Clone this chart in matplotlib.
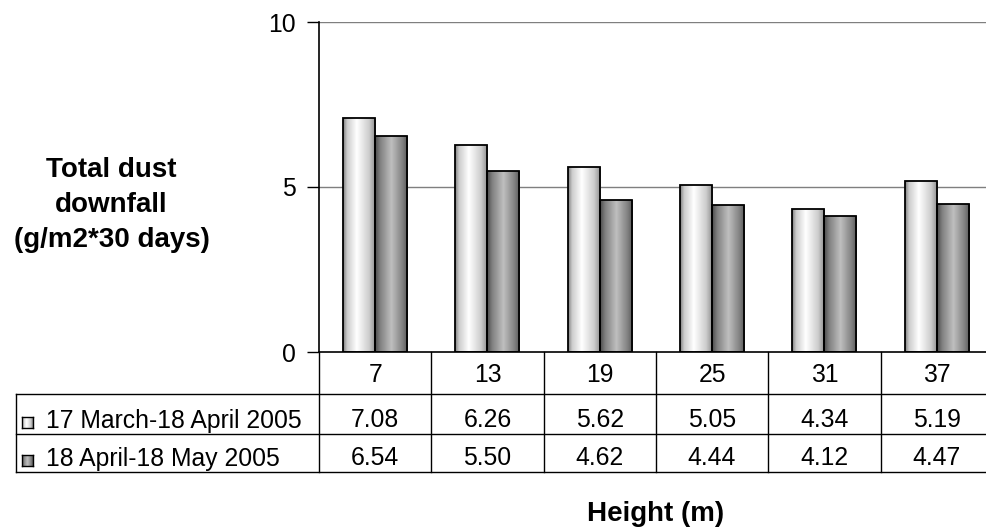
import numpy as np
import matplotlib
matplotlib.use("Agg")
import matplotlib.pyplot as plt
from matplotlib.transforms import blended_transform_factory

plt.rcParams["font.family"] = ["Liberation Sans", "DejaVu Sans"]

heights = ["7", "13", "19", "25", "31", "37"]
series_names = ["17 March-18 April 2005", "18 April-18 May 2005"]
march_april = [7.08, 6.26, 5.62, 5.05, 4.34, 5.19]
april_may = [6.54, 5.50, 4.62, 4.44, 4.12, 4.47]
ylabel_lines = ["Total dust", "downfall", "(g/m2*30 days)"]

# cylinder-like shading profiles (grey level across the bar)
GRAD = [([0, 0.12, 0.42, 0.8, 1], [0.5, 0.8, 1.0, 0.8, 0.55]),
        ([0, 0.15, 0.5, 0.85, 1], [0.3, 0.5, 0.75, 0.5, 0.35])]
FS = 17.8
FSB = 20

W, H = 986, 528
fig = plt.figure(figsize=(W / 100, H / 100), dpi=100)
ax = fig.add_axes([319 / W, (H - 352) / H, (W - 319) / W, 330 / H])

x = np.arange(len(heights))
bw = 0.285
vals = [march_april, april_may]
n_cols = (W - 319) / 112.3
ax.set_xlim(-0.5, n_cols - 0.5)
ax.set_ylim(0, 10)


def grad_img(spec):
    pos, lev = spec
    xs = np.linspace(0, 1, 64)
    return np.interp(xs, pos, lev)[None, :]


for k, v in enumerate(vals):
    bars = ax.bar(x + (k - 0.5) * bw, v, width=bw, facecolor="none", edgecolor="black",
                  linewidth=1.3, zorder=3)
    img = grad_img(GRAD[k])
    for b in bars:
        x0, y0 = b.get_x(), b.get_y()
        im = ax.imshow(img, cmap="gray", vmin=0, vmax=1, aspect="auto", interpolation="bilinear",
                       extent=(x0, x0 + b.get_width(), y0, y0 + b.get_height()), zorder=2)
        im.set_clip_path(b)

ax.set_yticks([0, 5, 10])
ax.set_yticklabels(["0", "5", "10"], fontsize=FS)
ax.tick_params(axis="y", length=9, width=1, pad=8, color="black")
ax.set_xticks([])
for yv in [5, 10]:
    ax.axhline(yv, color="#7f7f7f", lw=1, zorder=1)
ax.spines[["top", "right"]].set_visible(False)
ax.spines["left"].set_linewidth(1.2)
ax.spines["bottom"].set_linewidth(1.2)

# data table under the axis
tr = blended_transform_factory(ax.transData, ax.transAxes)
def yf(py):
    return (352 - py) / 330

rows_px = [352, 394, 434, 472]
left_x = (16 - 319) / 112.3 - 0.5
for py in rows_px[1:]:
    ax.plot([left_x, n_cols - 0.5], [yf(py)] * 2, color="black", lw=1, transform=tr, clip_on=False)
for xs in np.arange(len(heights) + 1) - 0.5:
    ax.plot([xs, xs], [yf(352), yf(472)], color="black", lw=1, transform=tr, clip_on=False)
ax.plot([left_x, left_x], [yf(394), yf(472)], color="black", lw=1, transform=tr, clip_on=False)

row_base = [427, 465]
for i, h in enumerate(heights):
    ax.text(i, yf(382), h, ha="center", va="baseline", fontsize=FS, transform=tr)
    for r, v in enumerate(vals):
        ax.text(i, yf(row_base[r]), f"{v[i]:.2f}", ha="center", va="baseline", fontsize=FS, transform=tr)

for r, name in enumerate(series_names):
    yb = row_base[r] + 1
    mk = fig.add_axes([22 / W, (H - yb) / H, 11 / W, 11 / H])
    mk.imshow(grad_img(GRAD[r]), cmap="gray", vmin=0, vmax=1, aspect="auto", interpolation="bilinear")
    mk.set_xticks([]); mk.set_yticks([])
    for s in mk.spines.values():
        s.set_linewidth(1)
    fig.text(46 / W, (H - yb) / H, name, ha="left", va="baseline", fontsize=FS)

for j, line in enumerate(ylabel_lines):
    fig.text(111.5 / W, (H - (177 + 35 * j)) / H, line, ha="center", va="baseline",
             fontsize=FSB, fontweight="bold")
fig.text(656 / W, (H - 521) / H, "Height (m)", ha="center", va="baseline", fontsize=FSB, fontweight="bold")

fig.savefig("out.png", dpi=100)
